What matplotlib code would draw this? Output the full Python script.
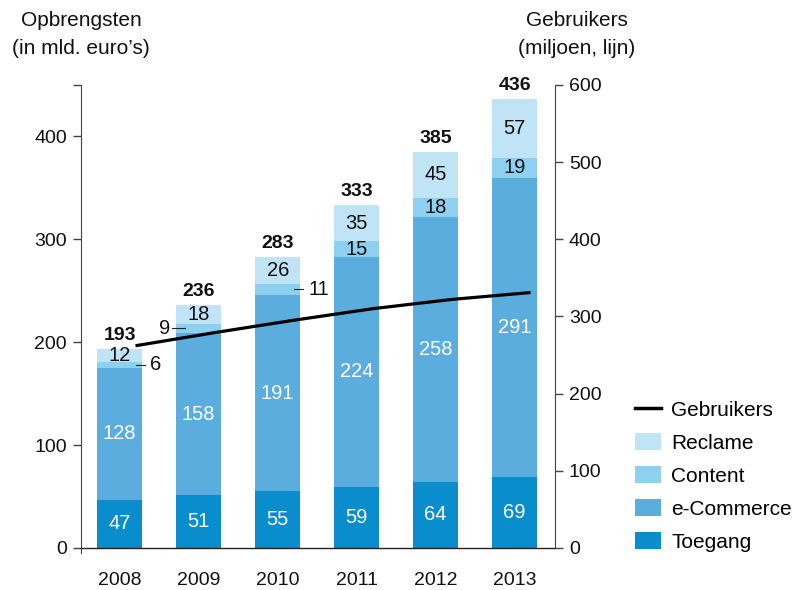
import matplotlib
matplotlib.use("Agg")
import matplotlib.pyplot as plt
from matplotlib.patches import Patch
from matplotlib.lines import Line2D
import numpy as np

plt.rcParams['font.family'] = ['Liberation Sans', 'DejaVu Sans']

years = ["2008", "2009", "2010", "2011", "2012", "2013"]
toegang = [47, 51, 55, 59, 64, 69]
ecommerce = [128, 158, 191, 224, 258, 291]
content = [6, 9, 11, 15, 18, 19]
reclame = [12, 18, 26, 35, 45, 57]
totals = [193, 236, 283, 333, 385, 436]
gebruikers = [262, 279, 295, 310, 322, 331]

c_toegang = "#0a8dcd"
c_ecom = "#5aaddd"
c_content = "#8ed0f0"
c_reclame = "#c0e4f6"
spine_c = "#444444"

fig = plt.figure(figsize=(7.96, 5.90), dpi=100)
ax = fig.add_axes([81/796, 1-553/590, (555-81)/796, (553-85)/590])
ax2 = ax.twinx()

x = np.arange(len(years))
w = 0.57
b1 = np.array(toegang)
b2 = b1 + np.array(ecommerce)
b3 = b2 + np.array(content)
ax.bar(x, toegang, w, color=c_toegang, zorder=2)
ax.bar(x, ecommerce, w, bottom=b1, color=c_ecom, zorder=2)
ax.bar(x, content, w, bottom=b2, color=c_content, zorder=2)
ax.bar(x, reclame, w, bottom=b3, color=c_reclame, zorder=2)

fs = 14.5
for i in range(len(years)):
    ax.text(x[i], toegang[i]/2, str(toegang[i]), ha='center', va='center', color='white', fontsize=fs, zorder=4)
    ax.text(x[i], b1[i] + ecommerce[i]/2, str(ecommerce[i]), ha='center', va='center', color='white', fontsize=fs, zorder=4)
    ax.text(x[i], b3[i] + reclame[i]/2, str(reclame[i]), ha='center', va='center', color='#111111', fontsize=fs, zorder=4)
    ax.text(x[i], totals[i] + 5, str(totals[i]), ha='center', va='bottom', color='#111111', fontsize=14, fontweight='bold', zorder=4)
    yc = b2[i] + content[i]/2
    if i == 0 or i == 2:
        ax.plot([x[i] + w/2 - 0.08, x[i] + w/2 + 0.03], [yc, yc], color='#222222', lw=0.8, zorder=4)
        ax.text(x[i] + w/2 + 0.1, yc, str(content[i]), ha='left', va='center', color='#111111', fontsize=fs, zorder=4)
    elif i == 1:
        ax.plot([x[i] - w/2 - 0.05, x[i] - w/2 + 0.11], [yc, yc], color='#222222', lw=0.8, zorder=4)
        ax.text(x[i] - w/2 - 0.08, yc, str(content[i]), ha='right', va='center', color='#111111', fontsize=fs, zorder=4)
    else:
        ax.text(x[i], yc, str(content[i]), ha='center', va='center', color='#111111', fontsize=fs, zorder=4)

ax2.plot(x + 0.2, gebruikers, color='black', lw=2.3, zorder=5, solid_capstyle='butt')

ax.set_xlim(-0.49, 5.51)
ax.set_ylim(-5, 450)
ax2.set_ylim(-5*600/450, 600)

ax.set_xticks(x)
ax.set_xticklabels(years)
ax.set_yticks([0, 100, 200, 300, 400])
ax.set_yticks([450], minor=True)
ax2.set_yticks([0, 100, 200, 300, 400, 500, 600])

for a in (ax, ax2):
    for s in ('top', 'bottom'):
        a.spines[s].set_visible(False)
    a.spines['left'].set_color(spine_c)
    a.spines['right'].set_color(spine_c)
ax.spines['right'].set_visible(False)
ax2.spines['left'].set_visible(False)
ax2.spines['right'].set_bounds(0, 600)
ax.axhline(0, color='#222222', lw=1.0, zorder=3, clip_on=False)

ax.tick_params(axis='x', length=0, pad=14, labelsize=14, colors='#111111')
ax.tick_params(axis='y', which='both', direction='out', length=6, width=1, color=spine_c, labelsize=14, labelcolor='#111111', pad=4)
ax2.tick_params(axis='y', direction='out', length=6, width=1, color=spine_c, labelsize=14, labelcolor='#111111', pad=4)
ax2.tick_params(axis='x', length=0)

tf = 15
fig.text(81/796, 1-21/590, "Opbrengsten", ha='center', va='center', fontsize=tf, color='#111111')
fig.text(81/796, 1-49/590, "(in mld. euro\u2019s)", ha='center', va='center', fontsize=tf, color='#111111')
fig.text(577/796, 1-21/590, "Gebruikers", ha='center', va='center', fontsize=tf, color='#111111')
fig.text(577/796, 1-49/590, "(miljoen, lijn)", ha='center', va='center', fontsize=tf, color='#111111')

handles = [Line2D([0], [0], color='black', lw=2.5),
           Patch(facecolor=c_reclame), Patch(facecolor=c_content),
           Patch(facecolor=c_ecom), Patch(facecolor=c_toegang)]
labels = ["Gebruikers", "Reclame", "Content", "e-Commerce", "Toegang"]
fig.legend(handles, labels, loc='upper left', bbox_to_anchor=(635/796, 1-400/590),
           frameon=False, fontsize=15, handlelength=1.25, handleheight=0.87,
           labelspacing=0.64, handletextpad=0.5, borderaxespad=0, borderpad=0)

fig.savefig("out.png", dpi=100)
